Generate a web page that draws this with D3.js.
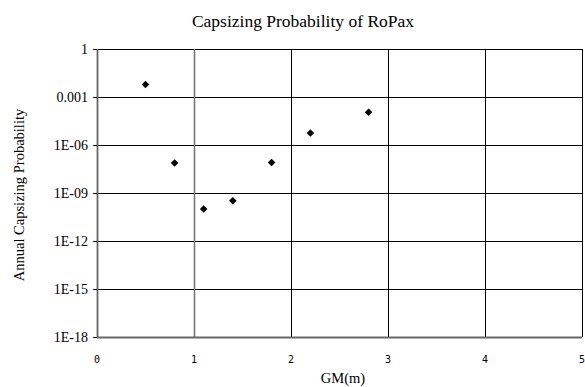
<!DOCTYPE html>
<html>
<head>
<meta charset="utf-8">
<script src="https://cdn.jsdelivr.net/npm/d3@7"></script>
<style>
  body { margin: 0; background: #fff; }
  svg { display: block; }
</style>
</head>
<body>
<svg id="chart" width="585" height="387"></svg>
<script>
// GM values (m) and annual capsizing probability
const gm = [0.5, 0.8, 1.1, 1.4, 1.8, 2.2, 2.8];
const probability = [6e-3, 7.5e-8, 1e-10, 3.3e-10, 8e-8, 5.6e-6, 1.1e-4];
const xTicks = [0, 1, 2, 3, 4, 5];
const yTicks = [1, 1e-3, 1e-6, 1e-9, 1e-12, 1e-15, 1e-18];
const yTickLabels = ["1", "0.001", "1E-06", "1E-09", "1E-12", "1E-15", "1E-18"];

const svg = d3.select("#chart");
const margin = { top: 49, right: 3, bottom: 50, left: 97 };
const width = 585 - margin.left - margin.right;
const height = 387 - margin.top - margin.bottom;
const serif = "Liberation Serif, Times New Roman, serif";

const x = d3.scaleLinear().domain([0, 5]).range([0, width]);
const y = d3.scaleLog().domain([1e-18, 1]).range([height, 0]);

const g = svg.append("g").attr("transform", `translate(${margin.left},${margin.top})`);
const px = v => Math.round(v) + 0.5;

// grid
g.selectAll(".hgrid").data(yTicks).join("line")
  .attr("x1", 0).attr("x2", width)
  .attr("y1", d => px(y(d))).attr("y2", d => px(y(d)))
  .attr("stroke", "#000").attr("stroke-width", 1);

g.selectAll(".vgrid").data(xTicks).join("line")
  .attr("y1", 0).attr("y2", height)
  .attr("x1", d => px(x(d))).attr("x2", d => px(x(d)))
  .attr("stroke", d => d === 1 ? "#777" : "#000").attr("stroke-width", d => d === 1 ? 1.6 : 1);

// left and bottom axis lines, heavier grey
g.append("line").attr("x1", 0.5).attr("x2", 0.5).attr("y1", 0).attr("y2", height + 1)
  .attr("stroke", "#666").attr("stroke-width", 1.8);
g.append("line").attr("x1", 0).attr("x2", width).attr("y1", height + 0.5).attr("y2", height + 0.5)
  .attr("stroke", "#666").attr("stroke-width", 1.8);

// small tick marks on the y axis
g.selectAll(".ytick").data(yTicks).join("line")
  .attr("x1", -4).attr("x2", 0)
  .attr("y1", d => px(y(d))).attr("y2", d => px(y(d)))
  .attr("stroke", "#000");

// y tick labels
g.selectAll(".ylab").data(yTicks).join("text")
  .attr("x", -9).attr("y", d => y(d)).attr("dy", "0.33em")
  .attr("text-anchor", "end")
  .attr("font-family", serif).attr("font-size", 14)
  .text((d, i) => yTickLabels[i]);

// x tick labels
g.selectAll(".xlab").data(xTicks).join("text")
  .attr("x", d => x(d)).attr("y", height + 26)
  .attr("text-anchor", "middle")
  .attr("font-family", "DejaVu Sans Mono, monospace").attr("font-size", 10)
  .text(d => d);

// markers
const diamond = d3.symbol().type(d3.symbolDiamond2).size(36);
g.selectAll(".pt").data(gm).join("path")
  .attr("d", diamond)
  .attr("transform", (d, i) => `translate(${x(d)},${y(probability[i])})`)
  .attr("fill", "#000");

// title and axis titles
svg.append("text").attr("x", 303).attr("y", 27).attr("text-anchor", "middle")
  .attr("font-family", serif).attr("font-size", 17.5)
  .text("Capsizing Probability of RoPax");

svg.append("text").attr("x", 343).attr("y", 383).attr("text-anchor", "middle")
  .attr("font-family", serif).attr("font-size", 14.5)
  .text("GM(m)");

svg.append("text")
  .attr("transform", "translate(24,195) rotate(-90)")
  .attr("text-anchor", "middle")
  .attr("font-family", serif).attr("font-size", 14.5)
  .text("Annual Capsizing Probability");
</script>
</body>
</html>
